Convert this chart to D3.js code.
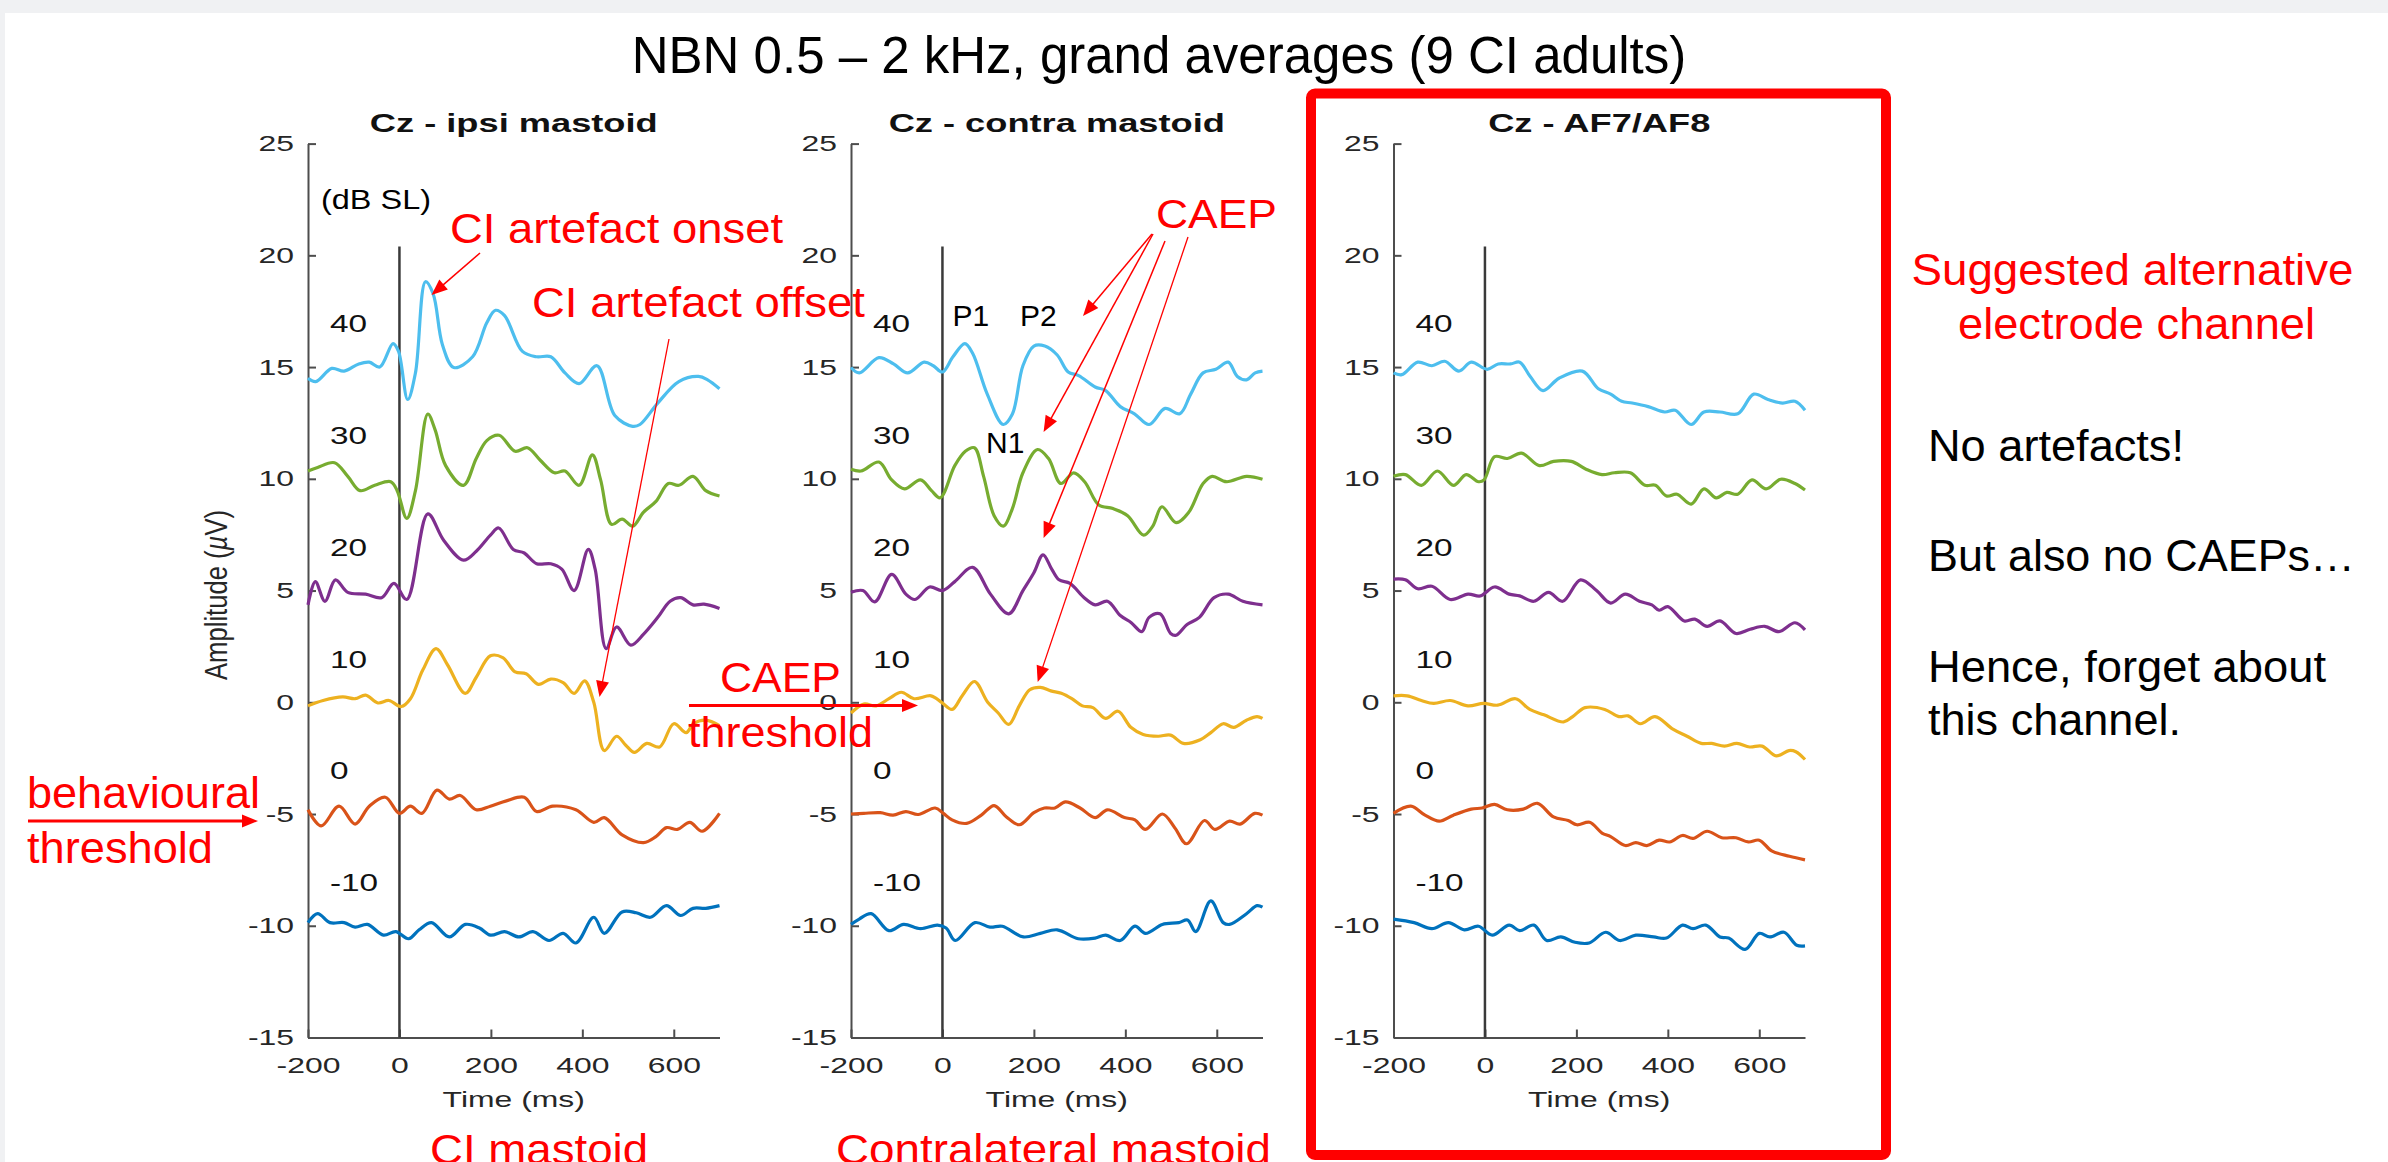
<!DOCTYPE html>
<html>
<head>
<meta charset="utf-8">
<script src="https://cdn.jsdelivr.net/npm/d3@7"></script>
<style>
  body { margin: 0; background: #f0f1f3; }
  svg { display: block; }
  text { font-family: "Liberation Sans", Arial, Helvetica, sans-serif; }
</style>
</head>
<body>
<svg id="slide"></svg>
<script>
// ---- data ----
const levels = [40, 30, 20, 10, 0, -10];          // dB SL
const levelOffsets = [15, 10, 5, 0, -5, -10];     // where each trace sits on the y axis
const levelColors = ["#4DBEEE", "#77AC30", "#7E2F8E", "#EDB120", "#D95319", "#0072BD"];
const panelTitles = ["Cz - ipsi mastoid", "Cz - contra mastoid", "Cz - AF7/AF8"];
const yTicks = [-15, -10, -5, 0, 5, 10, 15, 20, 25];
const xTicks = [-200, 0, 200, 400, 600];
const timeDomain = [-200, 700];
const ampDomain = [-15, 25];

// [time ms, amplitude µV]
const ipsi40 = [[-200,14.5],[-183,14.35],[-148,14.94],[-121,14.82],[-89,15.14],[-66,15.22],[-43,15.0],[-14,16.05],[-2,15.7],[18,13.55],[35,14.74],[57,18.82],[74,18.26],[94,16.0],[119,14.98],[160,15.46],[191,16.98],[210,17.54],[230,17.3],[269,15.7],[300,15.46],[331,15.46],[362,14.74],[393,14.26],[432,15.06],[471,12.83],[510,12.35],[526,12.43],[565,13.39],[611,14.35],[654,14.58],[674,14.43],[700,14.03]];
const ipsi30 = [[-200,10.35],[-179,10.51],[-142,10.72],[-113,10.11],[-86,9.47],[-54,9.71],[-19,9.87],[-5,9.47],[16,8.23],[35,9.47],[62,12.9],[78,12.19],[101,10.59],[140,9.71],[168,10.91],[191,11.71],[218,11.95],[253,11.23],[280,11.39],[308,10.83],[339,10.27],[362,10.35],[393,9.71],[422,11.07],[440,9.95],[464,7.96],[487,8.2],[510,7.88],[534,8.51],[561,8.99],[588,9.79],[611,9.71],[642,10.11],[670,9.47],[700,9.23]];
const ipsi20 = [[-200,4.36],[-184,5.4],[-163,4.52],[-140,5.48],[-113,4.92],[-74,4.84],[-39,4.68],[-12,5.32],[16,4.6],[62,8.43],[97,7.24],[140,6.36],[168,6.76],[199,7.48],[217,7.8],[249,6.84],[273,6.68],[300,6.2],[331,6.2],[355,5.96],[382,5.0],[413,6.84],[428,5.96],[452,2.4],[475,3.37],[506,2.56],[534,3.05],[565,3.8],[592,4.52],[615,4.68],[642,4.36],[666,4.39],[700,4.2]];
const ipsi10 = [[-200,-0.16],[-167,0.08],[-124,0.24],[-97,0.16],[-74,0.32],[-47,-0.03],[-23,0.08],[4,-0.19],[24,0.16],[51,1.44],[80,2.4],[105,1.68],[144,0.4],[168,1.12],[199,2.08],[226,2.0],[253,1.36],[277,1.28],[304,0.8],[331,1.04],[358,0.88],[382,0.4],[405,0.96],[425,0.0],[448,-2.16],[475,-1.52],[495,-1.92],[514,-2.24],[541,-1.84],[569,-2.0],[600,-0.96],[627,-1.36],[643,-0.96],[670,-0.8],[700,-1.04]];
const ipsi0 = [[-200,-4.81],[-171,-5.53],[-132,-4.65],[-97,-5.45],[-66,-4.65],[-31,-4.25],[0,-4.97],[24,-4.65],[49,-4.97],[82,-3.93],[109,-4.33],[133,-4.17],[168,-4.81],[199,-4.65],[234,-4.41],[273,-4.25],[300,-4.89],[335,-4.65],[386,-4.81],[425,-5.37],[448,-5.16],[487,-5.93],[534,-6.28],[561,-6.01],[584,-5.61],[608,-5.69],[635,-5.37],[662,-5.77],[700,-4.97]];
const ipsiNeg10 = [[-200,-9.86],[-179,-9.46],[-152,-9.86],[-121,-9.86],[-97,-10.06],[-70,-9.94],[-35,-10.42],[-8,-10.26],[20,-10.58],[43,-10.18],[70,-9.86],[109,-10.5],[144,-9.94],[175,-10.1],[199,-10.42],[230,-10.26],[261,-10.5],[292,-10.26],[327,-10.66],[358,-10.34],[386,-10.77],[425,-9.62],[448,-10.34],[487,-9.38],[518,-9.42],[549,-9.62],[584,-9.1],[615,-9.54],[642,-9.22],[670,-9.22],[700,-9.1]];

const contra40 = [[-200,14.98],[-182,14.74],[-139,15.42],[-107,15.14],[-76,14.74],[-40,15.22],[-20,15.06],[0,14.78],[23,15.46],[49,16.05],[66,15.62],[98,13.79],[133,12.43],[153,12.9],[176,15.06],[200,15.94],[224,15.94],[251,15.54],[275,14.78],[298,14.62],[334,14.11],[357,13.95],[389,13.23],[420,12.91],[452,12.43],[487,13.15],[519,12.91],[543,13.79],[570,14.74],[598,14.9],[625,15.22],[645,14.58],[665,14.43],[684,14.74],[700,14.82]];
const contra30 = [[-200,10.43],[-178,10.35],[-139,10.75],[-111,9.95],[-83,9.55],[-48,9.95],[-24,9.47],[-5,9.15],[27,10.59],[50,11.23],[70,11.39],[90,10.11],[113,8.35],[133,7.88],[153,8.67],[176,10.27],[208,11.31],[232,10.91],[259,9.79],[287,10.27],[311,9.87],[342,8.83],[373,8.67],[405,8.35],[440,7.48],[460,7.88],[480,8.75],[511,8.04],[539,8.51],[570,9.79],[590,10.11],[621,9.87],[665,10.11],[700,9.98]];
const contra20 = [[-200,4.92],[-174,5.0],[-148,4.49],[-111,5.72],[-80,4.84],[-60,4.6],[-28,5.16],[0,5.0],[27,5.4],[66,6.04],[105,4.84],[145,3.96],[176,5.0],[200,5.8],[220,6.6],[239,5.96],[255,5.48],[279,5.32],[310,4.68],[334,4.36],[361,4.52],[389,3.88],[413,3.56],[436,3.16],[452,3.8],[476,3.96],[499,3.08],[511,3.0],[535,3.48],[562,3.8],[594,4.68],[625,4.84],[657,4.52],[700,4.36]];
const contra10 = [[-200,-0.48],[-172,-0.08],[-145,-0.16],[-117,0.16],[-90,0.45],[-62,0.16],[-25,0.29],[-2,0.0],[21,-0.32],[44,0.32],[70,0.93],[99,0.0],[122,-0.48],[145,-0.99],[168,-0.16],[191,0.56],[214,0.67],[237,0.51],[260,0.4],[283,0.16],[306,-0.16],[329,-0.24],[357,-0.72],[384,-0.4],[412,-1.12],[439,-1.44],[472,-1.52],[499,-1.47],[527,-1.84],[564,-1.68],[587,-1.36],[614,-0.96],[637,-1.12],[665,-0.8],[688,-0.64],[700,-0.72]];
const contra0 = [[-200,-5.0],[-172,-4.97],[-136,-4.94],[-108,-5.05],[-80,-4.89],[-53,-5.02],[-16,-4.73],[2,-4.97],[21,-5.26],[53,-5.42],[85,-5.05],[113,-4.62],[140,-5.13],[168,-5.48],[200,-4.94],[223,-4.73],[246,-4.73],[269,-4.46],[301,-4.73],[334,-5.16],[361,-4.81],[398,-5.16],[421,-5.26],[444,-5.69],[481,-5.0],[508,-5.61],[534,-6.33],[573,-5.29],[596,-5.69],[628,-5.32],[651,-5.45],[683,-4.97],[700,-5.05]];
const contraNeg10 = [[-200,-9.94],[-182,-9.7],[-156,-9.46],[-117,-10.22],[-85,-9.94],[-48,-10.13],[-11,-9.97],[8,-10.1],[28,-10.66],[71,-9.86],[104,-10.06],[131,-10.02],[177,-10.5],[214,-10.34],[251,-10.18],[297,-10.58],[334,-10.55],[357,-10.42],[389,-10.66],[421,-10.02],[444,-10.34],[481,-9.94],[517,-9.86],[536,-9.74],[554,-10.26],[587,-8.89],[614,-9.86],[628,-9.94],[665,-9.46],[688,-9.1],[700,-9.17]];

const af40 = [[-200,14.74],[-182,14.66],[-147,15.22],[-116,15.06],[-88,15.26],[-57,14.82],[-30,15.22],[5,14.9],[29,15.14],[56,15.14],[76,15.22],[99,14.58],[127,13.95],[162,14.5],[213,14.82],[248,14.03],[275,13.79],[299,13.47],[322,13.39],[357,13.23],[393,12.99],[416,13.07],[451,12.43],[479,12.99],[514,12.99],[553,12.91],[588,13.79],[619,13.55],[651,13.39],[678,13.47],[700,13.07]];
const af30 = [[-200,10.11],[-174,10.19],[-139,9.71],[-104,10.35],[-69,9.71],[-41,10.19],[-14,9.87],[-2,9.95],[21,10.99],[49,10.91],[80,11.15],[119,10.59],[150,10.78],[189,10.78],[221,10.43],[256,10.19],[283,10.27],[318,10.27],[350,9.71],[373,9.71],[397,9.23],[420,9.31],[451,8.87],[479,9.55],[506,9.15],[529,9.39],[553,9.31],[584,9.95],[615,9.55],[647,9.98],[678,9.79],[700,9.5]];
const af20 = [[-200,5.51],[-174,5.48],[-147,5.08],[-116,5.19],[-76,4.6],[-37,4.84],[-10,4.76],[21,5.16],[53,4.84],[76,4.76],[107,4.52],[139,4.92],[170,4.52],[209,5.48],[244,5.0],[275,4.44],[307,4.84],[338,4.52],[365,4.36],[381,4.12],[400,4.28],[436,3.64],[459,3.72],[486,3.4],[514,3.64],[549,3.08],[580,3.27],[612,3.4],[643,3.16],[678,3.56],[700,3.24]];
const af10 = [[-200,0.29],[-170,0.29],[-139,0.08],[-112,-0.05],[-76,0.08],[-37,-0.16],[-3,-0.05],[28,-0.13],[67,0.16],[98,-0.32],[129,-0.56],[172,-0.88],[192,-0.64],[219,-0.24],[262,-0.32],[293,-0.64],[313,-0.61],[340,-0.96],[372,-0.64],[411,-1.2],[442,-1.52],[473,-1.84],[496,-1.84],[524,-1.96],[551,-1.84],[579,-2.0],[606,-1.96],[637,-2.4],[665,-2.16],[680,-2.21],[700,-2.56]];
const af0 = [[-200,-4.97],[-162,-4.65],[-131,-5.05],[-100,-5.32],[-69,-5.05],[-30,-4.78],[-6,-4.73],[21,-4.57],[49,-4.81],[84,-4.78],[115,-4.52],[150,-5.13],[182,-5.29],[201,-5.48],[229,-5.37],[256,-5.85],[275,-6.01],[307,-6.41],[330,-6.28],[354,-6.41],[381,-6.17],[404,-6.25],[432,-5.96],[455,-6.09],[486,-5.77],[518,-6.06],[549,-6.06],[576,-6.25],[600,-6.17],[627,-6.65],[666,-6.89],[700,-7.05]];
const afNeg10 = [[-200,-9.7],[-155,-9.86],[-116,-10.13],[-80,-9.86],[-45,-10.18],[-14,-10.02],[16,-10.42],[53,-9.97],[76,-10.22],[107,-9.97],[135,-10.66],[166,-10.5],[197,-10.74],[228,-10.77],[264,-10.29],[295,-10.66],[330,-10.42],[369,-10.5],[397,-10.55],[432,-9.97],[455,-10.13],[483,-9.97],[514,-10.5],[533,-10.55],[569,-11.06],[600,-10.34],[623,-10.5],[654,-10.29],[682,-10.87],[700,-10.9]];

const panelSeries = [
  [ipsi40, ipsi30, ipsi20, ipsi10, ipsi0, ipsiNeg10],
  [contra40, contra30, contra20, contra10, contra0, contraNeg10],
  [af40, af30, af20, af10, af0, afNeg10]
];

const rightHeading = ["Suggested alternative", "electrode channel"];
const rightNotes = ["No artefacts!", "But also no CAEPs…", "Hence, forget about", "this channel."];

// ---- layout ----
const W = 2388, H = 1162;
const S = 1.45;                 // the matlab figure is pasted stretched horizontally
const panelLefts = [308, 851, 1393.5];
const panelTop = 143.6, panelW = 411.5, panelH = 893.9;
const axisColor = "#4d4d4d", tickText = "#262626", red = "#ff0000";

const svg = d3.select("#slide").attr("width", W).attr("height", H);

svg.append("rect")
    .attr("x", 5).attr("y", 13)
    .attr("width", W - 5).attr("height", H - 13)
    .attr("fill", "#fff");

function styleAxis(a) {
    a.attr("font-size", null).attr("font-family", null);
    a.select(".domain").attr("stroke", axisColor).attr("stroke-width", 2);
    a.selectAll(".tick line").attr("stroke", axisColor).attr("stroke-width", 2);
    a.selectAll(".tick text").attr("font-size", 22).attr("fill", tickText);
}

function stretched(g, x, y, str, size) {
    return g.append("text")
        .attr("transform", `translate(${x},${y}) scale(${S},1)`)
        .attr("font-size", size)
        .text(str);
}

panelSeries.forEach((series, i) => {
    const g = svg.append("g").attr("transform", `translate(${panelLefts[i]},${panelTop})`);

    const x = d3.scaleLinear().domain(timeDomain).range([0, panelW]);
    const y = d3.scaleLinear().domain(ampDomain).range([panelH, 0]);

    g.append("g")
        .call(d3.axisLeft(y).tickValues(yTicks).tickSizeInner(-8).tickSizeOuter(0)
            .tickPadding(14).tickFormat(d => String(d)))
        .call(styleAxis)
        .call(a => a.selectAll(".tick text")
            .attr("x", -14 / S)
            .attr("transform", `scale(${S},1)`));

    g.append("g")
        .attr("transform", `translate(0,${panelH})`)
        .call(d3.axisBottom(x).tickValues(xTicks).tickSizeInner(-8).tickSizeOuter(0)
            .tickPadding(20).tickFormat(d => String(d)))
        .call(styleAxis)
        .call(a => a.selectAll(".tick text").attr("transform", `scale(${S},1)`));

    // stimulus onset line
    g.append("line")
        .attr("x1", x(0)).attr("x2", x(0))
        .attr("y1", y(20.4)).attr("y2", y(-15))
        .attr("stroke", "#3a3a3a")
        .attr("stroke-width", 2.5);

    const line = d3.line()
        .x(d => x(d[0]))
        .y(d => y(d[1]))
        .curve(d3.curveCatmullRom.alpha(0.5));

    g.selectAll(".trace")
        .data(series)
        .join("path")
        .attr("class", "trace")
        .attr("fill", "none")
        .attr("stroke", (d, k) => levelColors[k])
        .attr("stroke-width", 3.2)
        .attr("stroke-linejoin", "round")
        .attr("d", line);

    levels.forEach((lv, k) => {
        stretched(g, x(-152), y(levelOffsets[k] + 1.55), String(lv), 23).attr("fill", "#111");
    });

    stretched(g, panelW / 2, -11.6, panelTitles[i], 25)
        .attr("text-anchor", "middle")
        .attr("font-weight", "bold")
        .attr("fill", "#111");

    stretched(g, panelW / 2, 963.4, "Time (ms)", 22)
        .attr("text-anchor", "middle")
        .attr("fill", tickText);
});

// y label, first panel only
const ylab = svg.append("text")
    .attr("transform", `translate(227,595) scale(${S},1) rotate(-90)`)
    .attr("text-anchor", "middle")
    .attr("font-size", 22)
    .attr("fill", tickText)
    .attr("textLength", 170)
    .attr("lengthAdjust", "spacingAndGlyphs");
ylab.append("tspan").text("Amplitude (");
ylab.append("tspan").attr("font-style", "italic").text("µ");
ylab.append("tspan").text("V)");

// ---- slide annotations ----
svg.append("text")
    .attr("x", 1159).attr("y", 73)
    .attr("text-anchor", "middle")
    .attr("font-size", 51)
    .attr("fill", "#000")
    .text("NBN 0.5 – 2 kHz, grand averages (9 CI adults)");

function label(x, y, str, size, color, len, anchor) {
    const t = svg.append("text")
        .attr("x", x).attr("y", y)
        .attr("font-size", size)
        .attr("fill", color)
        .attr("text-anchor", anchor || "start")
        .text(str);
    if (len) t.attr("textLength", len).attr("lengthAdjust", "spacingAndGlyphs");
    return t;
}

function arrow(x1, y1, x2, y2, w, headLen, headW) {
    const dx = x2 - x1, dy = y2 - y1, L = Math.hypot(dx, dy);
    const ux = dx / L, uy = dy / L;
    const bx = x2 - ux * headLen, by = y2 - uy * headLen;
    svg.append("line")
        .attr("x1", x1).attr("y1", y1)
        .attr("x2", x2 - ux * headLen * 0.7).attr("y2", y2 - uy * headLen * 0.7)
        .attr("stroke", red).attr("stroke-width", w);
    svg.append("path")
        .attr("d", `M${x2},${y2}L${bx - uy * headW / 2},${by + ux * headW / 2}L${bx + uy * headW / 2},${by - ux * headW / 2}Z`)
        .attr("fill", red);
}

label(321, 209, "(dB SL)", 27, "#000", 110);

label(450, 243, "CI artefact onset", 42, red, 333);
label(532, 317, "CI artefact offset", 42, red, 333);
arrow(480, 253, 431.5, 295, 1.5, 16, 13);
arrow(669, 339, 599.5, 697, 1.3, 16, 13);

label(1156, 228, "CAEP", 40, red, 121);
arrow(1152, 234, 1083, 316, 1.5, 16, 13);
arrow(1153, 234, 1043.6, 432, 1.5, 16, 13);
arrow(1165, 241, 1043.6, 538, 1.5, 16, 13);
arrow(1188, 237, 1037.7, 682, 1.3, 16, 13);

label(952.5, 326, "P1", 30, "#000");
label(1020, 326, "P2", 30, "#000");
label(986, 453, "N1", 30, "#000");

label(720, 691.5, "CAEP", 42, red, 121);
label(688, 746.5, "threshold", 42, red, 185);
arrow(689, 705.5, 918, 705.5, 3, 16, 13);

label(27, 808, "behavioural", 44, red, 233);
label(27, 863, "threshold", 44, red, 186);
arrow(28, 821, 258, 821, 3, 16, 13);

label(430, 1164, "CI mastoid", 43, red, 218);
label(836, 1164, "Contralateral mastoid", 43, red, 435);

svg.append("rect")
    .attr("x", 1311).attr("y", 93.5)
    .attr("width", 575).attr("height", 1061.5)
    .attr("rx", 4)
    .attr("fill", "none")
    .attr("stroke", red)
    .attr("stroke-width", 10);

label(2132.5, 285, rightHeading[0], 45, red, 442, "middle");
label(2136.5, 339, rightHeading[1], 45, red, 357, "middle");

const noteY = [461, 571, 682, 735];
const noteLen = [256, 427, 398, 253];
rightNotes.forEach((s, k) => label(1928, noteY[k], s, 45, "#000", noteLen[k]));
</script>
</body>
</html>
